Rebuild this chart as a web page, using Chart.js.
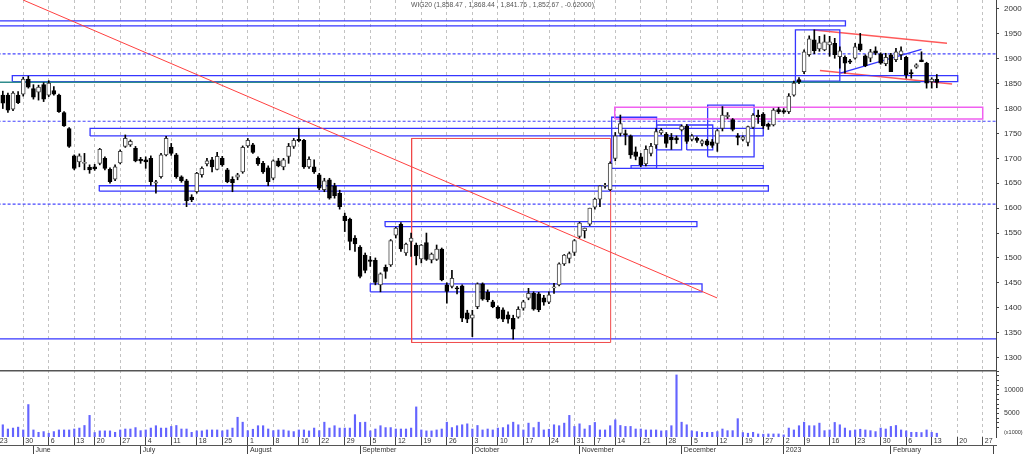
<!DOCTYPE html>
<html><head><meta charset="utf-8">
<script src="https://cdn.jsdelivr.net/npm/chart.js@4.4.0/dist/chart.umd.min.js"></script>
<style>
html,body{margin:0;padding:0;background:#fff;overflow:hidden}
#c1{position:absolute;left:0;top:0}
#c2{position:absolute;left:0;top:370px}
</style></head><body>
<canvas id="c1" width="1024" height="370"></canvas>
<canvas id="c2" width="1024" height="84"></canvas>
<script>
// ---------- DATA ----------
const TITLE = 'WIG20 (1,858.47 , 1,868.44 , 1,841.76 , 1,852.67 , -0.62000)';
const HOLIDAYS = ['2022-06-16','2022-08-15','2022-11-01','2022-11-11','2022-12-23','2022-12-26','2023-01-06'];
const FIRST_DAY = '2022-05-23';
const LAST_DAY = '2023-03-01';

const open = [1827,1827,1799,1827,1829,1859,1840,1833,1848,1827,
1836,1827,1792,1760,1705,1693,1690,1682,1683,1690,
1700,1678,1658,1691,1724,1727,1720,1698,1697,1700,
1650,1663,1707,1722,1707,1663,1655,1622,1633,1667,
1689,1697,1678,1700,1677,1658,1662,1673,1725,1727,
1700,1690,1681,1660,1695,1683,1704,1724,1738,1736,
1683,1683,1667,1637,1657,1645,1630,1584,1578,1540,
1522,1506,1496,1495,1446,1481,1486,1546,1568,1510,
1533,1526,1498,1531,1496,1497,1518,1446,1443,1440,
1444,1390,1379,1402,1448,1431,1412,1401,1396,1386,
1379,1381,1399,1419,1429,1428,1420,1411,1440,1446,
1488,1499,1511,1543,1555,1568,1602,1618,1644,1637,
1700,1750,1750,1745,1713,1703,1689,1710,1727,1751,
1749,1742,1741,1757,1765,1738,1740,1730,1735,1733,
1730,1760,1783,1778,1745,1738,1732,1762,1787,1789,
1769,1767,1798,1796,1794,1827,1858,1874,1908,1938,
1920,1918,1928,1931,1904,1903,1896,1901,1930,1906,
1901,1916,1910,1890,1908,1898,1908,1903,1872,1883,
1898,1891,1854,1858.47];
const high = [1835,1831,1834,1834,1863,1865,1848,1847,1852,1856,
1844,1829,1794,1762,1707,1709,1710,1687,1688,1720,
1703,1681,1687,1717,1747,1737,1724,1702,1703,1705,
1656,1710,1744,1730,1710,1665,1658,1627,1672,1683,
1700,1702,1712,1704,1680,1663,1670,1725,1740,1730,
1703,1694,1685,1697,1700,1700,1730,1740,1760,1738,
1703,1697,1670,1660,1660,1650,1636,1590,1580,1545,
1525,1510,1503,1500,1470,1486,1537,1562,1571,1530,
1550,1530,1527,1550,1510,1526,1520,1450,1475,1443,
1446,1395,1395,1450,1450,1436,1415,1404,1400,1392,
1385,1402,1415,1439,1432,1431,1425,1432,1449,1490,
1507,1512,1537,1572,1560,1600,1620,1645,1650,1693,
1752,1787,1757,1747,1723,1710,1725,1730,1760,1760,
1752,1750,1745,1767,1768,1748,1743,1737,1738,1738,
1758,1804,1792,1780,1750,1745,1765,1790,1797,1792,
1771,1800,1802,1800,1830,1855,1862,1918,1946,1958,
1945,1948,1945,1941,1924,1906,1899,1931,1951,1908,
1919,1924,1912,1911,1911,1921,1924,1905,1878,1890,
1914,1893,1862,1868.44];
const low = [1800,1792,1796,1810,1825,1841,1819,1817,1814,1824,
1827,1792,1764,1722,1677,1683,1677,1670,1676,1687,
1677,1650,1655,1689,1722,1724,1693,1690,1680,1646,
1630,1660,1705,1706,1660,1652,1603,1613,1630,1662,
1685,1673,1677,1684,1651,1633,1657,1670,1722,1710,
1686,1670,1645,1657,1683,1677,1690,1720,1733,1680,
1680,1670,1637,1633,1618,1620,1598,1553,1516,1513,
1460,1470,1483,1446,1432,1459,1483,1540,1513,1505,
1503,1486,1490,1495,1490,1495,1454,1409,1440,1428,
1372,1370,1342,1398,1415,1412,1400,1378,1372,1369,
1337,1379,1395,1416,1395,1392,1405,1408,1429,1444,
1485,1490,1505,1540,1540,1565,1598,1603,1640,1635,
1695,1745,1727,1700,1697,1683,1685,1705,1720,1748,
1722,1718,1730,1755,1730,1735,1732,1725,1725,1722,
1714,1755,1780,1755,1727,1735,1725,1760,1770,1760,
1758,1765,1790,1790,1790,1825,1850,1870,1905,1910,
1915,1916,1905,1901,1881,1871,1890,1899,1915,1884,
1894,1908,1889,1886,1874,1894,1898,1861,1861,1881,
1894,1841,1841,1841.76];
const close = [1811,1797,1831,1812,1859,1843,1823,1843,1819,1851,
1829,1794,1765,1724,1680,1705,1692,1677,1679,1718,
1680,1653,1683,1714,1740,1734,1695,1695,1693,1653,
1653,1707,1740,1710,1663,1655,1615,1617,1670,1680,
1695,1683,1704,1687,1653,1651,1667,1722,1736,1712,
1689,1673,1653,1695,1685,1697,1724,1736,1735,1683,
1698,1673,1640,1655,1620,1625,1603,1575,1533,1528,
1463,1475,1493,1451,1468,1473,1535,1560,1518,1528,
1540,1504,1526,1497,1508,1518,1456,1433,1459,1438,
1379,1377,1386,1448,1417,1416,1402,1379,1377,1377,
1357,1397,1412,1429,1397,1396,1411,1426,1442,1488,
1506,1509,1535,1570,1560,1600,1618,1645,1646,1690,
1745,1770,1747,1707,1704,1687,1718,1724,1754,1757,
1730,1737,1737,1765,1734,1745,1736,1735,1727,1726,
1756,1787,1787,1758,1742,1743,1764,1787,1783,1765,
1764,1797,1794,1793,1825,1851,1854,1914,1940,1916,
1932,1934,1934,1908,1916,1891,1893,1924,1918,1886,
1914,1911,1891,1903,1874,1914,1916,1868,1870,1888,
1894,1851,1859,1852.67];
const volume = [2600,1700,1900,2100,1500,6900,1500,1000,1150,800,
1150,1500,1500,1500,1700,1900,2450,4600,950,1300,
1300,1300,1000,1500,1700,1700,2000,1350,1500,1900,
2400,1900,1900,2250,2450,1700,1700,1000,1300,1300,
1500,1500,1500,1300,1500,1900,4200,3150,1350,1650,
2400,2400,1700,1350,1500,1500,1300,1150,1500,1500,
1300,1900,1350,3150,1900,2400,1900,1900,1900,4750,
3100,3150,1300,1700,2400,2000,2000,1700,1700,1700,
1900,6400,1500,1300,1300,1500,1700,3150,2000,2400,
2600,2800,1700,2450,1500,1700,1500,1900,2000,2600,
3150,2600,1500,2950,2000,3150,1500,1650,2600,2400,
2950,4600,2250,2800,1700,2450,3100,1500,1500,2400,
3650,2450,2250,2250,1700,1700,1500,1500,1500,1300,
1350,2400,13200,3150,2600,1300,1150,1000,1000,1000,
1150,1700,1350,1350,3900,950,800,1000,650,600,
650,650,650,450,1900,1500,2400,3150,2400,2400,
2950,1350,1500,3100,2600,1900,1350,1500,1650,1500,
1350,1150,1900,1700,2250,2450,1500,1300,1000,1000,
950,1500,1000,800];

const priceTicks = [1300,1350,1400,1450,1500,1550,1600,1650,1700,1750,1800,1850,1900,1950,2000];
const volumeTicks = [1000,2000,3000,4000,5000,6000,7000,8000,9000,10000,11000,12000,13000,14000];
const volumeLabels = {1000: '(x1000)', 5000: '5000', 10000: '10000'};
const MONTH_NAMES = ['','February','','April','May','June','July','August','September','October','November','December'];

// drawn objects, in (trading-day index, price) units
const blueRects = [ // [x1, x2, low, high]
  [-2,165.1,1966,1976],[1.86,187.1,1854,1866],[17.1,149,1745,1760.4],[18.9,150,1634,1645],
  [74.9,136,1563,1573],[72,137,1432,1448],[119.3,128.1,1680,1782.5],[128.1,133,1717,1767],
  [134,139.1,1717,1767],[138.1,147.2,1703,1807],[123.1,149,1680,1685.3],[155.3,164,1855,1958]
];
const pinkRects = [[119.9,192,1779,1802.6]];
const redRects = [[80.1,119.1,1330.3,1740]];
const blueSegments = [[-2,1337.4,200,1337.4],[164.1,1871,180,1918.7]];
const tealSegments = [[-2,1852.8,179.8,1852.8]];
const redTrend = [[3.98,2018,139.96,1419.7]];
const redChannel = [[158.9,1957.8,185,1931.1],[160.1,1876.5,186,1849.4]];
const dottedLevels = [1910,1774.5,1608];

// ---------- helpers ----------
function buildDates(from, to, hol) {
  const out = []; const d = new Date(from + 'T00:00:00Z'); const e = new Date(to + 'T00:00:00Z');
  while (d <= e) {
    const wd = d.getUTCDay(); const iso = d.toISOString().slice(0,10);
    if (wd !== 0 && wd !== 6 && !hol.includes(iso)) out.push(new Date(d.getTime()));
    d.setUTCDate(d.getUTCDate() + 1);
  }
  return out;
}
const dates = buildDates(FIRST_DAY, LAST_DAY, HOLIDAYS);
const TICK_SHIFT = 0.98;
const X_MIN = -0.55, X_MAX = 194.6;
const weekTicks = [], monthTicks = [];
dates.forEach((d, i) => {
  if (i === 0 || d.getUTCDay() <= dates[i-1].getUTCDay()) weekTicks.push(i - TICK_SHIFT);
  if (i > 0 && d.getUTCMonth() !== dates[i-1].getUTCMonth()) monthTicks.push(i - TICK_SHIFT);
});
const dayLabel = v => { const d = dates[Math.round(v + TICK_SHIFT)]; return d ? String(d.getUTCDate()) : ''; };
const monthLabel = v => { const d = dates[Math.round(v + TICK_SHIFT)]; if (!d) return ''; const m = d.getUTCMonth(); return m === 0 ? String(d.getUTCFullYear()) : MONTH_NAMES[m]; };

const FONT = "'Liberation Sans', Arial, sans-serif";
Chart.defaults.font.family = FONT;
Chart.defaults.color = '#333';

function lineDs(points, color, width, dash) {
  return { type: 'line', data: points, borderColor: color, borderWidth: width, borderDash: dash || [],
    pointRadius: 0, pointHoverRadius: 0, fill: false, tension: 0, spanGaps: true, order: 5 };
}
const rectPts = r => [{x:r[0],y:r[2]},{x:r[1],y:r[2]},{x:r[1],y:r[3]},{x:r[0],y:r[3]},{x:r[0],y:r[2]}];
const segPts = s => [{x:s[0],y:s[1]},{x:s[2],y:s[3]}];

const shapeDs = [];
dottedLevels.forEach(v => shapeDs.push(lineDs([{x:-2,y:v},{x:200,y:v}], '#4545ff', 1.2, [3,2])));
redRects.forEach(r => shapeDs.push(lineDs(rectPts(r), '#f04848', 1)));
redTrend.forEach(s => shapeDs.push(lineDs(segPts(s), '#ff4040', 1)));
pinkRects.forEach(r => shapeDs.push(lineDs(rectPts(r), '#f060f0', 1.5)));
tealSegments.forEach(s => shapeDs.push(lineDs(segPts(s), '#2f8c8c', 1.5)));
blueRects.forEach(r => shapeDs.push(lineDs(rectPts(r), '#3636ff', 1.3)));
blueSegments.forEach(s => shapeDs.push(lineDs(segPts(s), '#3636ff', 1.3)));
redChannel.forEach(s => shapeDs.push(lineDs(segPts(s), '#ff5a5a', 1.5)));

const N = close.length;
const idx = Array.from({length: N}, (_, i) => i);
const wickDs = { type: 'bar', data: idx.map(i => ({x: i, y: [low[i], high[i]]})), backgroundColor: '#000',
  barThickness: 1, grouped: false, order: 2, borderWidth: 0 };
const bodyDs = { type: 'bar', data: idx.map(i => ({x: i, y: [open[i], close[i]]})),
  backgroundColor: idx.map(i => close[i] >= open[i] ? '#ffffff' : '#000000'),
  borderColor: idx.map(i => close[i] >= open[i] ? '#444444' : '#000000'),
  borderWidth: 1, borderSkipped: false, barThickness: 4, minBarLength: 1, grouped: false, order: 1 };

const zeroPad = s => { s.paddingLeft = 0; s.paddingRight = 0; s.paddingTop = 0; s.paddingBottom = 0; };

const titlePlugin = { id: 'ttl', afterDraw(c) {
  const ctx = c.ctx; ctx.save(); ctx.font = '6.8px ' + FONT; ctx.fillStyle = '#555';
  ctx.textBaseline = 'middle'; ctx.textAlign = 'left'; ctx.fillText(TITLE, 411, 5.5); ctx.restore(); } };

new Chart(document.getElementById('c1'), {
  type: 'bar',
  data: { datasets: [...shapeDs, wickDs, bodyDs] },
  options: {
    responsive: false, animation: false, events: [],
    layout: { padding: 0 },
    plugins: { legend: { display: false }, tooltip: { enabled: false } },
    scales: {
      x: { type: 'linear', position: 'bottom', min: X_MIN, max: X_MAX, offset: false,
        afterBuildTicks: s => { s.ticks = weekTicks.map(v => ({value: v})); },
        afterFit: s => { s.height = 0; zeroPad(s); },
        ticks: { display: false, autoSkip: false },
        grid: { color: '#c2c2c2', drawTicks: false, offset: false, lineWidth: 1 },
        border: { display: false, dash: [3,3] } },
      y: { type: 'linear', position: 'right', min: 1275, max: 2018,
        afterBuildTicks: s => { s.ticks = priceTicks.map(v => ({value: v})); },
        afterFit: s => { s.width = 28; zeroPad(s); },
        ticks: { color: '#333', font: { size: 8 }, padding: 5, autoSkip: false, callback: v => String(v) },
        grid: { drawOnChartArea: false, tickLength: 3, tickColor: '#444', offset: false },
        border: { display: true, color: '#444', width: 1 } }
    }
  },
  plugins: [titlePlugin]
});

const sepPlugin = { id: 'sep', afterDraw(c) {
  const ctx = c.ctx; ctx.save(); ctx.strokeStyle = '#555'; ctx.lineWidth = 1.5;
  ctx.beginPath(); ctx.moveTo(0, 0.75); ctx.lineTo(c.chartArea.right, 0.75); ctx.stroke(); ctx.restore(); } };

new Chart(document.getElementById('c2'), {
  type: 'bar',
  data: { datasets: [{ data: idx.map(i => ({x: i, y: volume[i]})), backgroundColor: '#6464ff',
    barThickness: 1.5, grouped: false, borderWidth: 0 }] },
  options: {
    responsive: false, animation: false, events: [],
    layout: { padding: 0 },
    plugins: { legend: { display: false }, tooltip: { enabled: false } },
    scales: {
      x: { type: 'linear', position: 'bottom', weight: 1, min: X_MIN, max: X_MAX, offset: false,
        afterBuildTicks: s => { s.ticks = weekTicks.map(v => ({value: v})); },
        afterFit: s => { s.height = 8; zeroPad(s); },
        ticks: { autoSkip: false, maxRotation: 0, minRotation: 0, align: 'start', labelOffset: 2, padding: -8,
          font: { size: 7 }, color: '#333', callback: dayLabel },
        grid: { color: '#c2c2c2', offset: false, drawTicks: true, tickLength: 8, tickColor: '#444',
          tickBorderDash: [], tickWidth: 1 },
        border: { display: false, dash: [3,3] } },
      x2: { type: 'linear', position: 'bottom', weight: 2, min: X_MIN, max: X_MAX, offset: false,
        afterBuildTicks: s => { s.ticks = monthTicks.map(v => ({value: v})); },
        afterFit: s => { s.height = 9; zeroPad(s); },
        ticks: { autoSkip: false, maxRotation: 0, minRotation: 0, align: 'start', labelOffset: 2, padding: -8,
          font: { size: 7 }, color: '#333', callback: monthLabel },
        grid: { drawOnChartArea: false, offset: false, tickLength: 9, tickColor: '#444', tickBorderDash: [] },
        border: { display: true, color: '#555', width: 1 } },
      y: { type: 'linear', position: 'right', min: 0, max: 14250,
        afterBuildTicks: s => { s.ticks = volumeTicks.map(v => ({value: v})); },
        afterFit: s => { s.width = 28; zeroPad(s); },
        ticks: { color: '#333', padding: 5, autoSkip: false,
          font: ctx => ({ size: (ctx.tick && ctx.tick.value === 1000) ? 5.5 : 7 }),
          callback: v => volumeLabels[v] || '' },
        grid: { drawOnChartArea: false, offset: false, tickLength: 3,
          tickColor: ctx => (ctx.tick && ctx.tick.value === 1000) ? 'rgba(0,0,0,0)' : '#444' },
        border: { display: true, color: '#444', width: 1 } }
    }
  },
  plugins: [sepPlugin]
});
</script>
</body></html>
